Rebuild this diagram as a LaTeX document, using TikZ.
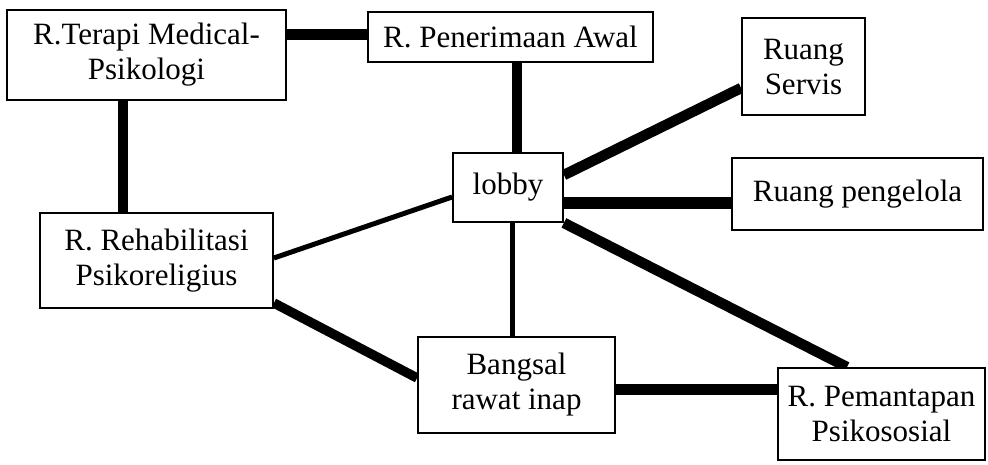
\documentclass[tikz,border=0pt]{standalone}
\usepackage{fontspec}
\setmainfont{Liberation Serif}
\usetikzlibrary{backgrounds}
\begin{document}
\begin{tikzpicture}[x=1pt,y=-1pt,
  room/.style={draw=black,line width=1.8pt,fill=white,inner sep=0pt,align=center,
    font=\fontsize{31}{35}\selectfont},
  heavy/.style={line width=10.5pt},
  light/.style={line width=5pt}]
\useasboundingbox (0,0) rectangle (988,464);
% rooms
\node[room,minimum width=279,minimum height=90] (terapi) at (146.5,55) {R.Terapi Medical-\\Psikologi};
\node[room,minimum width=285,minimum height=50] (terima) at (510.5,37) {R. Penerimaan Awal};
\node[room,minimum width=123,minimum height=97] (servis) at (803.5,66.5) {Ruang\\Servis};
\node[room,minimum width=110,minimum height=69] (lobby) at (508,187.5) {lobby};
\node[room,minimum width=251,minimum height=72] (kelola) at (857.5,194) {Ruang pengelola};
\node[room,minimum width=233,minimum height=95] (rehab) at (156.5,260.5) {R. Rehabilitasi\\Psikoreligius};
\node[room,minimum width=197,minimum height=96] (bangsal) at (516.5,385) {Bangsal\\rawat inap};
\node[room,minimum width=207,minimum height=92] (mantap) at (881.5,414) {R. Pemantapan\\Psikososial};
% relations between rooms
\begin{scope}[on background layer]
\draw[heavy,line width=11pt] (terapi.east |- 0,34) -- (terima.west |- 0,34);
\draw[heavy] (terapi.south -| 123,0) -- (rehab.north -| 123,0);
\draw[heavy] (terima.south -| 517,0) -- (lobby.north -| 517,0);
\draw[heavy] (lobby.east |- 0,175) -- (servis.west |- 0,88);
\draw[heavy,line width=12pt] (lobby.east |- 0,203) -- (kelola.west |- 0,203);
\draw[heavy] (lobby.south east) -- (mantap.north -| 847,0);
\draw[light] (lobby.south -| 512,0) -- (bangsal.north -| 512,0);
\draw[light] (rehab.east |- 0,258) -- (lobby.west |- 0,197);
\draw[heavy,line width=9.5pt] (rehab.east |- 0,303) -- (bangsal.west |- 0,378);
\draw[heavy,line width=11pt] (bangsal.east |- 0,389) -- (mantap.west |- 0,389);
\end{scope}
\end{tikzpicture}
\end{document}
